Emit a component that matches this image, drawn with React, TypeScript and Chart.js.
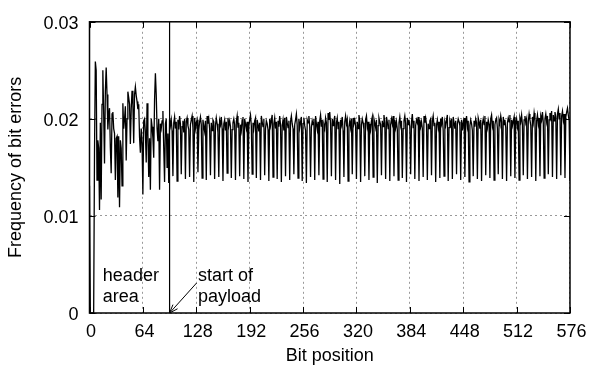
import React, { useEffect, useRef } from "react";
import { Chart, registerables } from "chart.js";

Chart.register(...registerables);

// Bit errors in the header area (bits 0..95)
const headerFreq: number[] = [
  .0131, 0, 0, 0, 0, 0, .0165, .0259, .0250, .0137,
  .0178, .0170, .0106, .0196, .0117, .0215, .0250, .0205, .0154, .0228,
  .0253, .0225, .0189, .0204, .0211, .0170, .0144, .0205, .0207, .0190,
  .0185, .0137, .0180, .0182, .0119, .0182, .0109, .0178, .0170, .0131,
  .0216, .0190, .0200, .0213, .0157, .0200, .0228, .0222, .0215, .0174,
  .0210, .0229, .0215, .0175, .0225, .0233, .0224, .0218, .0210, .0215,
  .0181, .0165, .0190, .0175, .0122, .0198, .0200, .0186, .0155, .0216,
  .0185, .0140, .0180, .0127, .0200, .0192, .0180, .0160, .0220, .0247,
  .0225, .0190, .0177, .0200, .0127, .0195, .0190, .0198, .0208, .0170,
  .0135, .0195, .0200, .0150, .0185, .0134,
];

// Bit errors in the payload (bits 96..576)
const payloadFreq: number[] = [
  .0200, .0193, .0199, .0188, .0141, .0196, .0202, .0190, .0197, .0136, .0199, .0189, .0203, .0195, .0143, .0192, .0198, .0186, .0200, .0138,
  .0197, .0201, .0193, .0189, .0140, .0194, .0199, .0203, .0191, .0135, .0201, .0190, .0196, .0199, .0145, .0188, .0197, .0202, .0194, .0139,
  .0199, .0192, .0187, .0198, .0137, .0203, .0195, .0200, .0190, .0142, .0196, .0188, .0199, .0197, .0138, .0193, .0201, .0195, .0186, .0140,
  .0198, .0194, .0202, .0190, .0136, .0195, .0199, .0188, .0197, .0144, .0201, .0193, .0198, .0192, .0139, .0189, .0196, .0200, .0194, .0137,
  .0197, .0203, .0191, .0196, .0141, .0194, .0188, .0199, .0202, .0138, .0200, .0195, .0190, .0197, .0135, .0192, .0199, .0204, .0193, .0143,
  .0196, .0190, .0198, .0201, .0139, .0199, .0194, .0187, .0196, .0137, .0203, .0197, .0192, .0200, .0142, .0190, .0198, .0195, .0189, .0136,
  .0200, .0193, .0199, .0204, .0140, .0195, .0201, .0190, .0197, .0138, .0198, .0192, .0203, .0194, .0135, .0193, .0199, .0188, .0201, .0141,
  .0202, .0196, .0191, .0198, .0137, .0197, .0203, .0195, .0190, .0143, .0194, .0199, .0205, .0193, .0139, .0200, .0191, .0197, .0202, .0136,
  .0195, .0201, .0193, .0188, .0134, .0199, .0196, .0203, .0192, .0140, .0191, .0198, .0194, .0200, .0137, .0203, .0195, .0189, .0197, .0142,
  .0198, .0204, .0192, .0199, .0138, .0194, .0190, .0201, .0196, .0135, .0206, .0199, .0207, .0195, .0141, .0200, .0193, .0198, .0203, .0137,
  .0196, .0201, .0190, .0197, .0133, .0199, .0194, .0202, .0188, .0140, .0197, .0203, .0195, .0199, .0136, .0192, .0198, .0191, .0200, .0143,
  .0201, .0195, .0199, .0193, .0138, .0197, .0190, .0204, .0198, .0135, .0194, .0200, .0196, .0189, .0141, .0199, .0203, .0192, .0197, .0137,
  .0195, .0189, .0198, .0202, .0140, .0200, .0196, .0191, .0199, .0134, .0193, .0201, .0197, .0194, .0142, .0198, .0192, .0204, .0196, .0138,
  .0202, .0197, .0190, .0199, .0136, .0194, .0200, .0195, .0203, .0141, .0199, .0191, .0197, .0189, .0137, .0196, .0202, .0193, .0198, .0139,
  .0190, .0198, .0203, .0195, .0135, .0201, .0194, .0199, .0192, .0143, .0197, .0205, .0191, .0198, .0138, .0193, .0199, .0196, .0202, .0136,
  .0199, .0192, .0197, .0190, .0140, .0203, .0196, .0201, .0194, .0137, .0195, .0190, .0198, .0200, .0142, .0198, .0203, .0193, .0196, .0135,
  .0194, .0199, .0191, .0197, .0139, .0200, .0195, .0202, .0188, .0141, .0197, .0193, .0199, .0204, .0136, .0191, .0198, .0194, .0200, .0138,
  .0202, .0196, .0190, .0198, .0143, .0195, .0200, .0197, .0193, .0137, .0199, .0188, .0196, .0201, .0140, .0196, .0203, .0192, .0198, .0135,
  .0193, .0199, .0195, .0188, .0141, .0198, .0192, .0200, .0196, .0138, .0201, .0197, .0190, .0199, .0136, .0195, .0200, .0194, .0203, .0142,
  .0197, .0191, .0199, .0195, .0139, .0200, .0204, .0193, .0198, .0137, .0194, .0199, .0201, .0190, .0143, .0199, .0195, .0203, .0197, .0138,
  .0202, .0194, .0199, .0191, .0136, .0196, .0201, .0197, .0204, .0141, .0199, .0193, .0198, .0202, .0139, .0195, .0200, .0192, .0198, .0137,
  .0201, .0197, .0204, .0194, .0142, .0199, .0203, .0196, .0200, .0138, .0197, .0205, .0199, .0193, .0140, .0202, .0196, .0206, .0199, .0136,
  .0198, .0204, .0195, .0201, .0141, .0203, .0199, .0207, .0196, .0139, .0200, .0205, .0197, .0203, .0143, .0199, .0206, .0201, .0208, .0140,
  .0204, .0198, .0207, .0202, .0138, .0205, .0210, .0200, .0206, .0142, .0203, .0208, .0199, .0205, .0139, .0202, .0207, .0211, .0204, .0198,
  .0136,
];

const xTicks: number[] = [0, 64, 128, 192, 256, 320, 384, 448, 512, 576];
const yTicks: number[] = [0, 0.01, 0.02, 0.03];
const yTickLabels: string[] = ["0", "0.01", "0.02", "0.03"];
const payloadStartBit = 96;
const headerLabel: string[] = ["header", "area"];
const payloadLabel: string[] = ["start of", "payload"];

const FONT = '"Liberation Sans", Arial, Helvetica, sans-serif';

const boxPlugin = {
  id: "boxAndNotes",
  afterDatasetsDraw(chart: any) {
    const { ctx, chartArea: a, scales } = chart;
    const x = scales.x;
    const y = scales.y;
    ctx.save();
    ctx.strokeStyle = "#000";
    // inward ticks
    ctx.lineWidth = 1;
    ctx.beginPath();
    const tl = 6;
    xTicks.forEach((v) => {
      const px = Math.round(x.getPixelForValue(v)) + 0.5;
      ctx.moveTo(px, a.bottom);
      ctx.lineTo(px, a.bottom - tl);
      ctx.moveTo(px, a.top);
      ctx.lineTo(px, a.top + tl);
    });
    yTicks.forEach((v) => {
      const py = Math.round(y.getPixelForValue(v)) + 0.5;
      ctx.moveTo(a.left, py);
      ctx.lineTo(a.left + tl, py);
      ctx.moveTo(a.right, py);
      ctx.lineTo(a.right - tl, py);
    });
    ctx.stroke();

    // start of payload line
    const ps = x.getPixelForValue(payloadStartBit);
    ctx.lineWidth = 1.2;
    ctx.beginPath();
    ctx.moveTo(ps, a.top);
    ctx.lineTo(ps, a.bottom);
    ctx.stroke();

    // border box
    ctx.lineWidth = 1.5;
    ctx.strokeRect(a.left, a.top, a.right - a.left, a.bottom - a.top);

    // labels
    ctx.fillStyle = "#000";
    ctx.font = `18px ${FONT}`;
    ctx.textAlign = "left";
    ctx.textBaseline = "alphabetic";
    const base0 = y.getPixelForValue(0);
    const hx = x.getPixelForValue(16);
    ctx.fillText(headerLabel[0], hx, base0 - 32);
    ctx.fillText(headerLabel[1], hx, base0 - 11);
    const sx = x.getPixelForValue(130);
    ctx.fillText(payloadLabel[0], sx, base0 - 32);
    ctx.fillText(payloadLabel[1], sx, base0 - 11);

    // arrow
    const tipX = ps;
    const tipY = base0;
    const fromX = ps + 27;
    const fromY = base0 - 30;
    ctx.lineWidth = 1;
    ctx.beginPath();
    ctx.moveTo(fromX, fromY);
    ctx.lineTo(tipX, tipY);
    const ang = Math.atan2(fromY - tipY, fromX - tipX);
    const hl = 9;
    const spread = 0.35;
    ctx.moveTo(tipX + hl * Math.cos(ang - spread), tipY + hl * Math.sin(ang - spread));
    ctx.lineTo(tipX, tipY);
    ctx.lineTo(tipX + hl * Math.cos(ang + spread), tipY + hl * Math.sin(ang + spread));
    ctx.stroke();
    ctx.restore();
  },
};

export default function App() {
  const ref = useRef<HTMLCanvasElement | null>(null);
  useEffect(() => {
    if (!ref.current) return;
    const values = [...headerFreq, ...payloadFreq];
    const data = values.map((v, i) => ({ x: i, y: v }));
    const chart = new Chart(ref.current, {
      type: "line",
      data: {
        datasets: [
          {
            data,
            borderColor: "#000",
            borderWidth: 1.3,
            pointRadius: 0,
            tension: 0,
            fill: false,
          },
        ],
      },
      options: {
        animation: false,
        responsive: false,
        maintainAspectRatio: false,
        devicePixelRatio: 1,
        layout: { padding: { left: 0, right: 18, top: 15, bottom: 0 } },
        plugins: { legend: { display: false }, tooltip: { enabled: false } },
        scales: {
          x: {
            type: "linear",
            min: 0,
            max: 576,
            afterBuildTicks: (s: any) => {
              s.ticks = xTicks.map((v) => ({ value: v }));
            },
            afterFit: (s: any) => {
              s.height = 55;
            },
            ticks: {
              color: "#000",
              font: { family: FONT, size: 18 },
              padding: 8,
              labelOffset: 1.5,
              maxRotation: 0,
              autoSkip: false,
              callback: (v: any) => String(v),
            },
            grid: { color: "#999", lineWidth: 1, drawTicks: false },
            border: { display: false, dash: [2, 3] },
            title: {
              display: true,
              text: "Bit position",
              color: "#000",
              font: { family: FONT, size: 18 },
              padding: { top: 0, bottom: 1 },
            },
          },
          y: {
            type: "linear",
            min: 0,
            max: 0.03,
            afterBuildTicks: (s: any) => {
              s.ticks = yTicks.map((v) => ({ value: v }));
            },
            afterFit: (s: any) => {
              s.width = 89.5;
            },
            ticks: {
              color: "#000",
              font: { family: FONT, size: 18 },
              padding: 11,
              labelOffset: 2.5,
              callback: (v: any) => {
                const i = yTicks.findIndex((t) => Math.abs(t - v) < 1e-9);
                return i >= 0 ? yTickLabels[i] : "";
              },
            },
            grid: { color: "#999", lineWidth: 1, drawTicks: false },
            border: { display: false, dash: [2, 3] },
            title: {
              display: true,
              text: "Frequency of bit errors",
              color: "#000",
              font: { family: FONT, size: 18 },
              padding: { top: 5, bottom: 0 },
            },
          },
        },
      },
      plugins: [boxPlugin],
    });
    return () => chart.destroy();
  }, []);
  return (
    <div style={{ position: "absolute", left: 0, top: 0, width: 593, height: 368, background: "#fff" }}>
      <canvas ref={ref} width={593} height={368} style={{ width: 593, height: 368, display: "block" }} />
    </div>
  );
}
